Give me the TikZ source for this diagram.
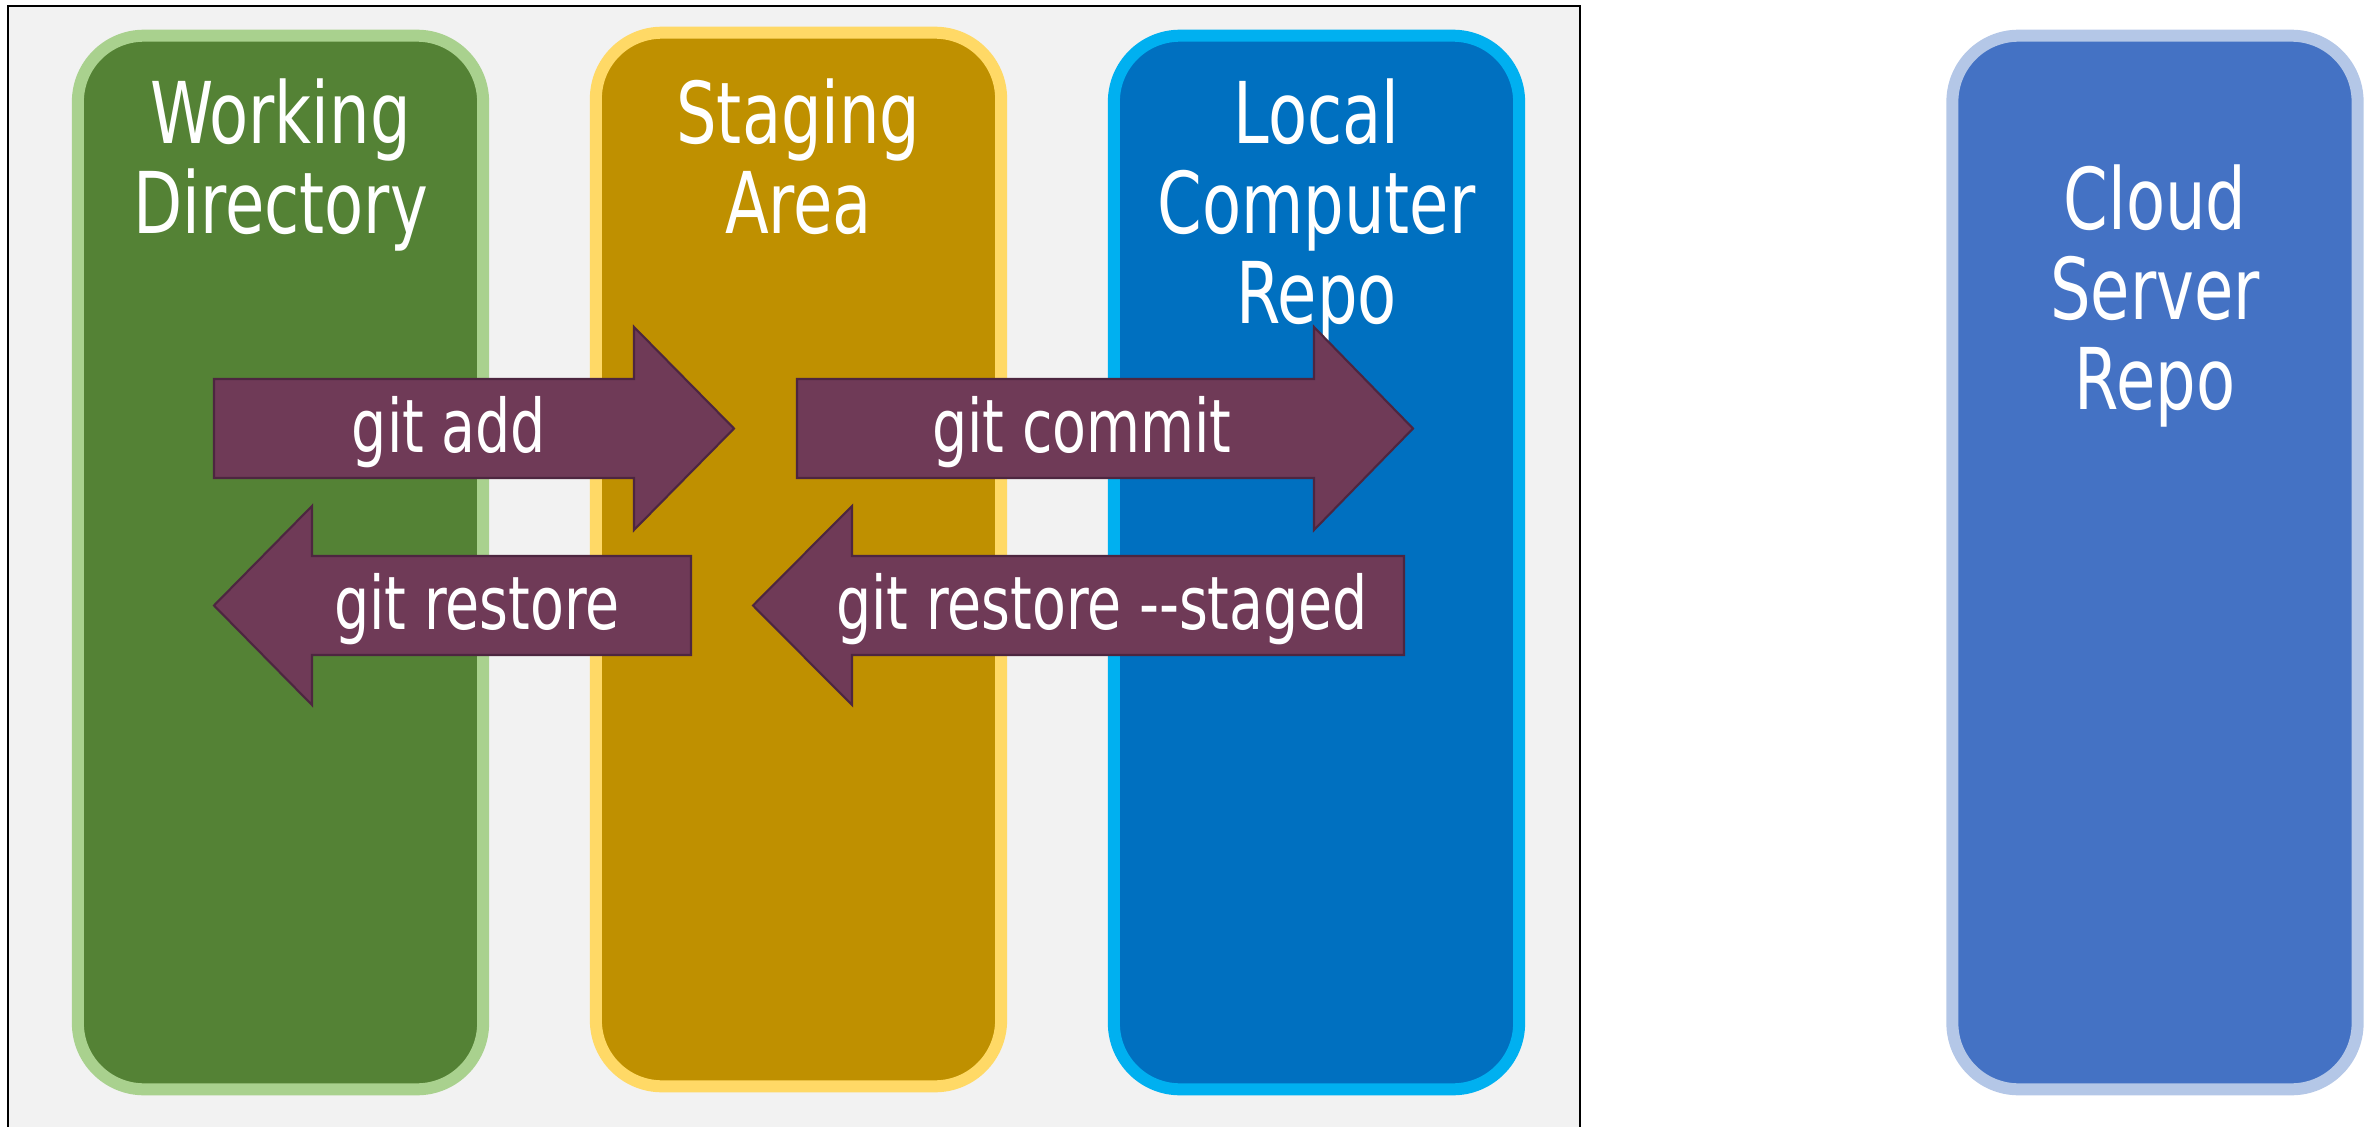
\documentclass[tikz,border=0pt]{standalone}
\usepackage{fontspec}
\newfontfamily\repofont{DejaVu Sans Condensed}

\definecolor{wdfill}{HTML}{548235}
\definecolor{wdline}{HTML}{A9D18E}
\definecolor{stfill}{HTML}{BF9000}
\definecolor{stline}{HTML}{FFD966}
\definecolor{lcfill}{HTML}{0070C0}
\definecolor{lcline}{HTML}{00B0F0}
\definecolor{csfill}{HTML}{4472C4}
\definecolor{csline}{HTML}{B4C7E7}
\definecolor{cmdfill}{HTML}{6F3A57}
\definecolor{cmdline}{HTML}{4D2640}
\definecolor{panel}{HTML}{F2F2F2}

\tikzset{
  repo/.style={line width=0.12cm, rounded corners=0.66cm, minimum width=4.05cm, minimum height=10.53cm, inner sep=0pt},
  title/.style={text=white, align=center, inner sep=0pt, yscale=1.2, font=\repofont\fontsize{20.2}{21.3}\selectfont},
  cmdarrow/.style={fill=cmdfill, draw=cmdline, line width=0.6pt},
  cmd/.style={text=white, inner sep=0pt, yscale=1.2, font=\repofont\fontsize{17.5}{21}\selectfont}
}

\begin{document}
\begin{tikzpicture}[x=0.01cm, y=-0.01cm]

    \useasboundingbox (0,0) rectangle (2377,1127);

    % Grey panel round the local side
    \draw[fill=panel, line width=0.02cm] (8,6) rectangle (1580,1130);

    % The four areas
    \node[repo, draw=wdline, fill=wdfill] (wd) at (280.5,562.5) {};
    \node[repo, draw=stline, fill=stfill] (stage) at (798.5,559.5) {};
    \node[repo, draw=lcline, fill=lcfill] (local) at (1316.5,562.5) {};
    \node[repo, draw=csline, fill=csfill] (cloud) at (2155,562.5) {};

    \node[title] (wdtitle) at (280.5,165) {Working\\Directory};
    \node[title] (stagetitle) at (798.5,157) {Staging\\Area};
    \node[title] (localtitle) at (1316.5,210) {Local\\Computer\\Repo};
    \node[title] (cloudtitle) at (2155,296) {Cloud\\Server\\Repo};

    % Commands going right
    \draw[cmdarrow] (214,379) -- (634,379) -- (634,327) -- (734,428.5) -- (634,530) -- (634,478) -- (214,478) -- cycle;
    \node[cmd] (add) at (449,432) {git add};

    \draw[cmdarrow] (797,379) -- (1314,379) -- (1314,327) -- (1413,428.5) -- (1314,530) -- (1314,478) -- (797,478) -- cycle;
    \node[cmd] (commit) at (1082,432) {git commit};

    % Commands going left
    \draw[cmdarrow] (691,556) -- (312,556) -- (312,506) -- (214,605.5) -- (312,705) -- (312,655) -- (691,655) -- cycle;
    \node[cmd] (restore) at (477,609) {git restore};

    \draw[cmdarrow] (1404,556) -- (852,556) -- (852,506) -- (753,605.5) -- (852,705) -- (852,655) -- (1404,655) -- cycle;
    \node[cmd] (unstage) at (1102,609) {git restore -\kern0pt-staged};

\end{tikzpicture}
\end{document}
